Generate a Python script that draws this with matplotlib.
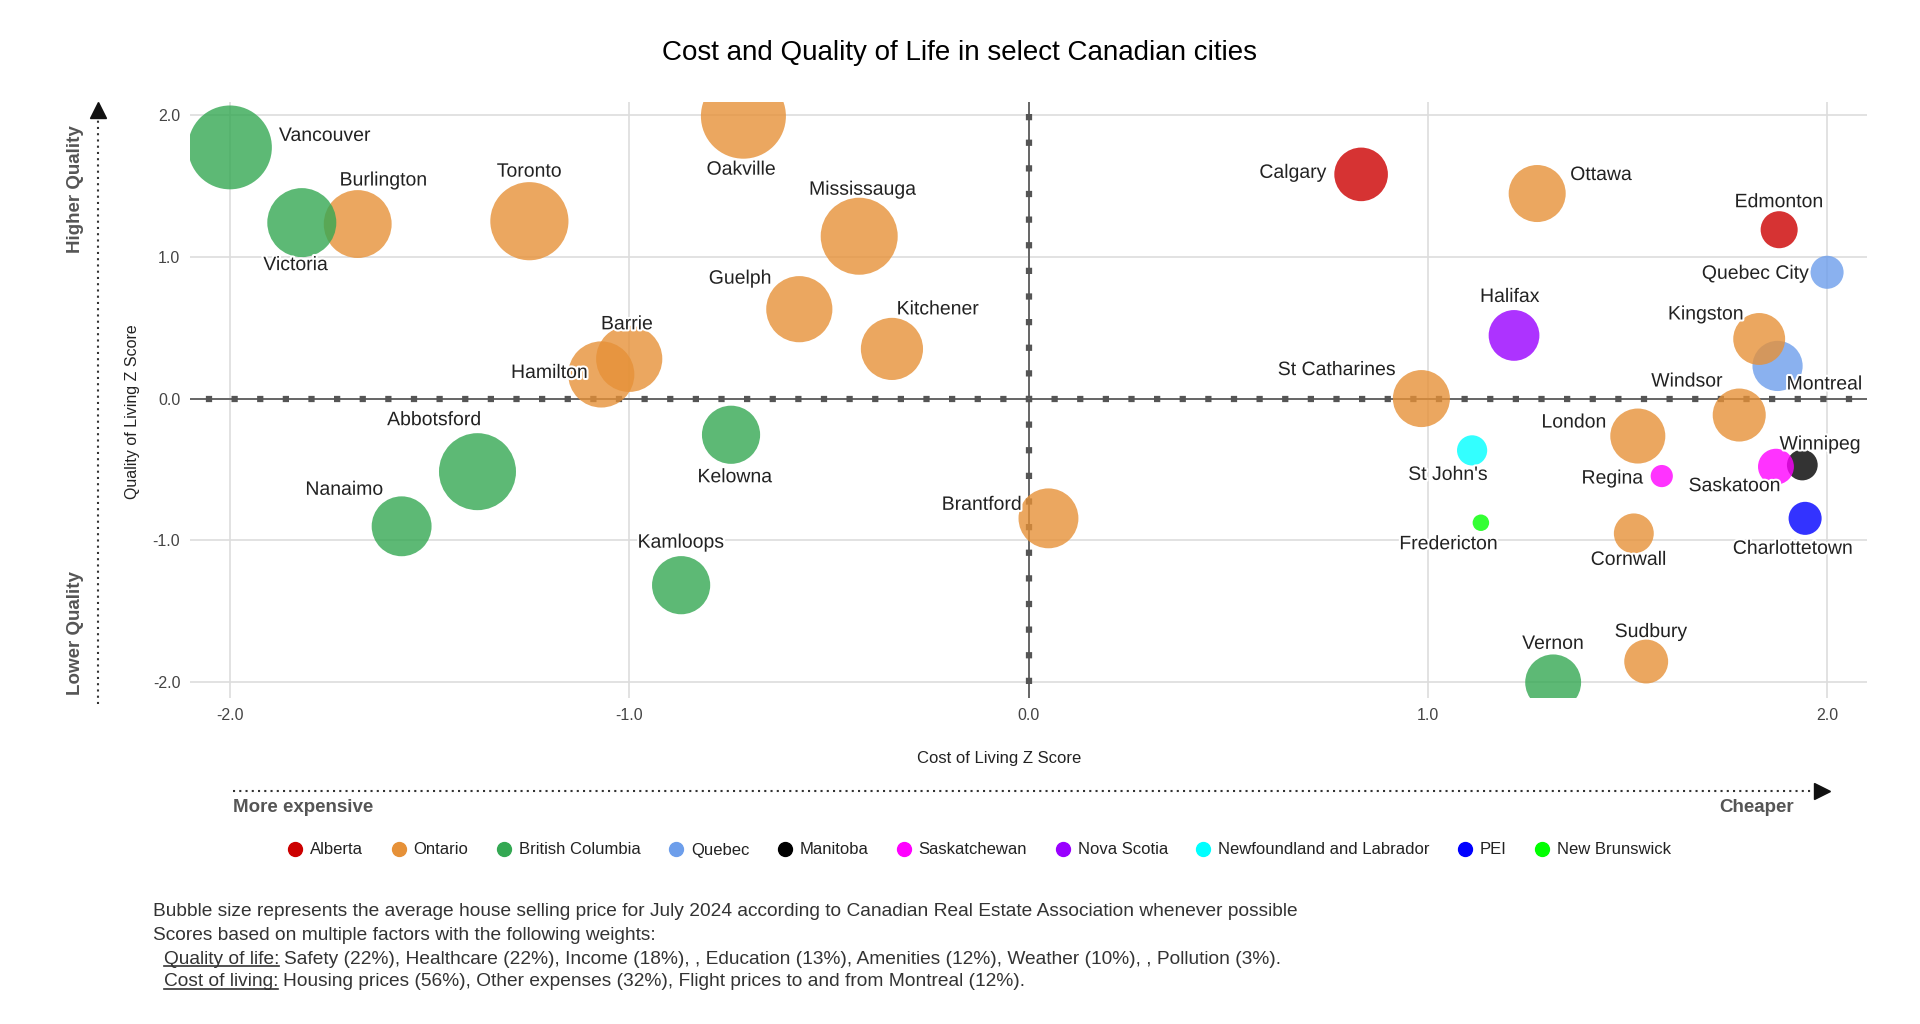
import matplotlib
matplotlib.use("Agg")
import matplotlib.pyplot as plt
import matplotlib.patheffects as pe
from matplotlib.lines import Line2D

plt.rcParams["font.family"] = ["Liberation Sans", "DejaVu Sans"]
plt.rcParams["axes.unicode_minus"] = False

DPI = 100
W, H = 1920, 1024

# ---- data ----
cities = [
    "Vancouver", "Burlington", "Victoria", "Toronto", "Hamilton", "Barrie", "Abbotsford", "Nanaimo",
    "Kelowna", "Kamloops", "Oakville", "Mississauga", "Guelph", "Kitchener", "Brantford",
    "Calgary", "Ottawa", "Edmonton", "Quebec City", "Halifax", "Montreal", "Kingston",
    "St Catharines", "Windsor", "London", "St John's", "Regina", "Winnipeg", "Saskatoon",
    "Fredericton", "Cornwall", "Charlottetown", "Vernon", "Sudbury",
]
provinces = [
    "British Columbia", "Ontario", "British Columbia", "Ontario", "Ontario", "Ontario",
    "British Columbia", "British Columbia", "British Columbia", "British Columbia", "Ontario",
    "Ontario", "Ontario", "Ontario", "Ontario", "Alberta", "Ontario", "Alberta", "Quebec",
    "Nova Scotia", "Quebec", "Ontario", "Ontario", "Ontario", "Ontario",
    "Newfoundland and Labrador", "Saskatchewan", "Manitoba", "Saskatchewan", "New Brunswick",
    "Ontario", "PEI", "British Columbia", "Ontario",
]
cost_z = [
    -2.00, -1.68, -1.82, -1.25, -1.07, -1.00, -1.38, -1.57,
    -0.745, -0.87, -0.714, -0.424, -0.574, -0.342, 0.05,
    0.833, 1.274, 1.88, 2.00, 1.216, 1.876, 1.83,
    0.984, 1.78, 1.526, 1.111, 1.586, 1.938, 1.872,
    1.133, 1.516, 1.945, 1.314, 1.547,
]
quality_z = [
    1.77, 1.23, 1.24, 1.25, 0.17, 0.28, -0.515, -0.90,
    -0.255, -1.315, 1.99, 1.144, 0.63, 0.35, -0.844,
    1.58, 1.445, 1.19, 0.89, 0.445, 0.23, 0.42,
    0.00, -0.116, -0.264, -0.365, -0.546, -0.468, -0.48,
    -0.875, -0.95, -0.844, -2.00, -1.853,
]
# average house selling price, thousands of dollars
house_price_k = [
    1480, 1200, 1220, 1380, 1170, 1170, 1360, 1060,
    1030, 1030, 1500, 1360, 1170, 1100, 1060,
    950, 1010, 660, 590, 900, 890, 920,
    1010, 940, 975, 540, 400, 550, 640,
    300, 710, 590, 990, 780,
]

province_names = [
    "Alberta", "Ontario", "British Columbia", "Quebec", "Manitoba", "Saskatchewan",
    "Nova Scotia", "Newfoundland and Labrador", "PEI", "New Brunswick",
]
province_colors = [
    "#cc0000", "#e69138", "#34a853", "#6d9eeb", "#000000", "#ff00ff",
    "#9900ff", "#00ffff", "#0000ff", "#00ff00",
]

notes_line1 = ("Bubble size represents the average house selling price for July 2024 "
               "according to Canadian Real Estate Association whenever possible")
notes_line2 = "Scores based on multiple factors with the following weights:"
notes_quality = ("Quality of life:", "Safety (22%), Healthcare (22%), Income (18%), , Education (13%), "
                 "Amenities (12%), Weather (10%), , Pollution (3%).")
notes_cost = ("Cost of living:", "Housing prices (56%), Other expenses (32%), Flight prices to and from Montreal (12%).")

# label placement: offset from bubble centre in pixels (dx right, dy down) and alignment
label_layout = {
    "Vancouver": (49, -11, "left"), "Victoria": (-6, 43, "center"), "Burlington": (26, -43, "center"),
    "Toronto": (0, -49, "center"), "Barrie": (-2, -34, "center"), "Hamilton": (-13, -1, "right"),
    "Abbotsford": (-43, -51, "center"), "Nanaimo": (-57, -36, "center"), "Kelowna": (4, 43, "center"),
    "Kamloops": (0, -42, "center"), "Oakville": (-2, 54, "center"), "Mississauga": (4, -46, "center"),
    "Guelph": (-59, -30, "center"), "Kitchener": (46, -39, "center"), "Calgary": (-34, -1, "right"),
    "Ottawa": (33, -18, "left"), "Edmonton": (0, -27, "center"), "Quebec City": (-18, 2, "right"),
    "Halifax": (-4, -38, "center"), "Kingston": (-15, -24, "right"), "Montreal": (9, 19, "left"),
    "St Catharines": (-25, -28, "right"), "Windsor": (-16, -33, "right"), "London": (-31, -13, "right"),
    "St John's": (-24, 25, "center"), "Regina": (-18, 3, "right"), "Saskatoon": (-41, 20, "center"),
    "Winnipeg": (18, -20, "center"), "Brantford": (-26, -13, "right"), "Fredericton": (-32, 22, "center"),
    "Cornwall": (-5, 27, "center"), "Charlottetown": (-12, 31, "center"), "Vernon": (0, -38, "center"),
    "Sudbury": (5, -29, "center"),
}

R_MIN, R_MAX = 8.25, 42.5  # bubble radius range in pixels
PX = 72.0 / DPI


def bubble_area(price):
    lo, hi = min(house_price_k), max(house_price_k)
    r = R_MIN + (price - lo) / (hi - lo) * (R_MAX - R_MIN)
    return (2 * r * PX) ** 2


def fx(px):
    return px / W


def fy(py):
    return 1 - py / H


fig = plt.figure(figsize=(W / DPI, H / DPI), dpi=DPI)
ax = fig.add_axes([fx(190), fy(698), fx(1867) - fx(190), fy(102) - fy(698)])
ax.set_xlim(-2.1, 2.1)
ax.set_ylim(-2.11, 2.09)

ticks = [-2.0, -1.0, 0.0, 1.0, 2.0]
ax.set_xticks(ticks)
ax.set_yticks(ticks)
ax.set_xticklabels([f"{t:.1f}" for t in ticks])
ax.set_yticklabels([f"{t:.1f}" for t in ticks])
ax.tick_params(length=0, labelsize=11.5, labelcolor="#444444", pad=7)
ax.grid(color="#dddddd", lw=1.2, zorder=0)
ax.set_axisbelow(True)
for s in ax.spines.values():
    s.set_visible(False)

# zero axes: thin line with square dashes
for xs, ys in (([0, 2.1], [0, 0]), ([0, -2.1], [0, 0]), ([0, 0], [0, 2.09]), ([0, 0], [0, -2.11])):
    ax.plot(xs, ys, color="#666666", lw=1.4, zorder=1)
    ax.plot(xs, ys, color="#555555", lw=4.5, ls=(0.5, (1, 3.1)), zorder=1)

color_of = dict(zip(province_names, province_colors))
colors = [color_of[p] for p in provinces]
ax.scatter(cost_z, quality_z, s=[bubble_area(p) for p in house_price_k], c=colors,
           alpha=0.8, linewidths=0, zorder=3)

halo = [pe.withStroke(linewidth=3, foreground="white")]
for name, x, y in zip(cities, cost_z, quality_z):
    dx, dy, ha = label_layout[name]
    ax.annotate(name, (x, y), xytext=(dx * PX, -dy * PX), textcoords="offset points",
                ha=ha, va="center", fontsize=14, color="#222222", zorder=5, path_effects=halo)

# titles and axis labels
fig.text(0.5, fy(53), "Cost and Quality of Life in select Canadian cities", ha="center", va="center",
         fontsize=20, color="#000000")
fig.text(fx(999), fy(758), "Cost of Living Z Score", ha="center", va="center", fontsize=12, color="#222222")
fig.text(fx(132), fy(412), "Quality of Living Z Score", ha="center", va="center", rotation=90,
         fontsize=11.5, color="#222222")
fig.text(fx(76), fy(189), "Higher Quality", ha="center", va="center", rotation=90, fontsize=13.5,
         fontweight="bold", color="#555555")
fig.text(fx(76), fy(633), "Lower Quality", ha="center", va="center", rotation=90, fontsize=13.5,
         fontweight="bold", color="#555555")
fig.text(fx(233), fy(807), "More expensive", ha="left", va="center", fontsize=13.5,
         fontweight="bold", color="#555555")
fig.text(fx(1794), fy(807), "Cheaper", ha="right", va="center", fontsize=13.5,
         fontweight="bold", color="#555555")

# dotted direction arrows
fig.add_artist(Line2D([fx(98), fx(98)], [fy(704), fy(116)], transform=fig.transFigure,
                      ls=(0, (1, 2)), lw=1.5, color="#333333"))
fig.add_artist(Line2D([fx(98)], [fy(110)], transform=fig.transFigure, marker="^", ms=11,
                      color="#111111", ls=""))
fig.add_artist(Line2D([fx(233), fx(1815)], [fy(791), fy(791)], transform=fig.transFigure,
                      ls=(0, (1, 2)), lw=1.5, color="#333333"))
fig.add_artist(Line2D([fx(1822)], [fy(791)], transform=fig.transFigure, marker=">", ms=11,
                      color="#111111", ls=""))

# legend
handles = [Line2D([], [], marker="o", ls="", ms=10, markerfacecolor=c, markeredgecolor=c)
           for c in province_colors]
fig.legend(handles, province_names, loc="center", bbox_to_anchor=(fx(979), fy(850)), ncol=10,
           frameon=False, fontsize=12, handletextpad=0.4, columnspacing=1.62, handlelength=1.0,
           labelcolor="#222222")

# notes
note_kw = dict(ha="left", va="center", fontsize=13.8, color="#333333")
fig.text(fx(153), fy(912), notes_line1, **note_kw)
fig.text(fx(153), fy(935), notes_line2, **note_kw)
renderer = fig.canvas.get_renderer()
for (head, rest), py in ((notes_quality, 959), (notes_cost, 982)):
    t = fig.text(fx(164), fy(py), head, **note_kw)
    bb = t.get_window_extent(renderer)
    fig.add_artist(Line2D([bb.x0 / W, bb.x1 / W], [(bb.y0 + 2) / H] * 2, transform=fig.transFigure,
                          lw=1.2, color="#333333"))
    fig.text((bb.x1 + 5) / W, fy(py), rest, **note_kw)

fig.savefig("out.png", dpi=DPI)
